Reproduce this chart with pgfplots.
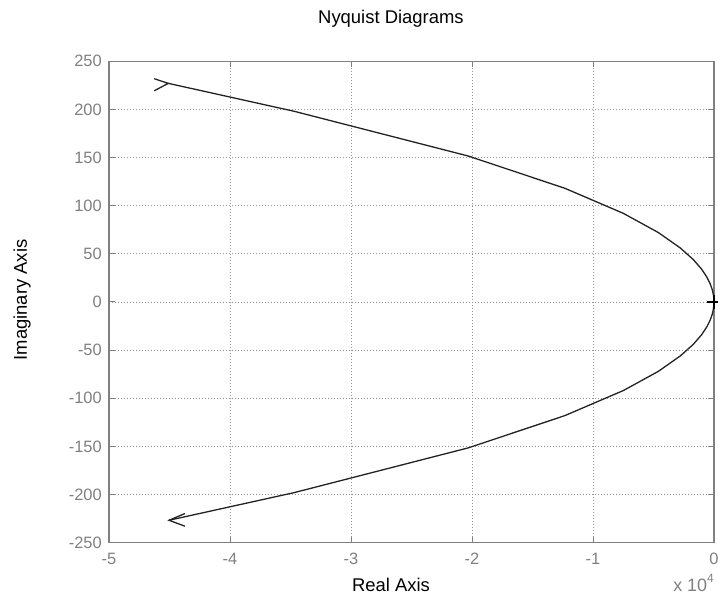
\documentclass[border=0pt]{standalone}
\usepackage{pgfplots}
\pgfplotsset{compat=1.18}
\usepackage{fontspec}
\setmainfont{Liberation Sans}
\definecolor{axgray}{RGB}{128,128,128}
\definecolor{gridgray}{RGB}{150,150,150}
\definecolor{curve}{RGB}{35,35,35}
\begin{document}
\begin{tikzpicture}
\useasboundingbox (0,0) rectangle (718bp,605bp);
\begin{axis}[
  at={(109bp,62.3bp)}, anchor=south west,
  scale only axis, width=605bp, height=481.5bp,
  xmin=-5, xmax=0, ymin=-250, ymax=250,
  xtick={-5,-4,-3,-2,-1,0},
  xticklabels={-5,-4,-3,-2,-1,0},
  ytick={-250,-200,-150,-100,-50,0,50,100,150,200,250},
  yticklabels={-250,-200,-150,-100,-50,0,50,100,150,200,250},
  tick align=inside, ticks=major,
  major tick length=6bp,
  tick style={draw=axgray, line width=1bp},
  axis line style={draw=axgray, line width=1.3bp},
  grid=major,
  major grid style={draw=gridgray, line width=0.8bp, dash pattern=on 1bp off 2bp},
  ticklabel style={font=\fontsize{16.5}{19}\selectfont, text=axgray},
  xticklabel style={yshift=-7bp},
  yticklabel style={xshift=-3.7bp},
  title={Nyquist Diagrams},
  title style={at={(axis description cs:0.466,1)}, anchor=base, yshift=32bp, font=\fontsize{18.5}{21}\selectfont},
  xlabel={Real Axis},
  xlabel style={at={(axis description cs:0.466,0)}, anchor=base, yshift=-49bp, font=\fontsize{18.5}{21}\selectfont},
  ylabel={Imaginary Axis},
  ylabel style={at={(axis description cs:-0.1438,0.504)}, anchor=center, rotate=0, font=\fontsize{18.5}{21}\selectfont},
  clip=false,
]
% upper branch
\addplot[curve, line width=1.3bp] coordinates {
  (0,0) (-0.0014,4) (-0.0057,8) (-0.015,13) (-0.032,19) (-0.060,26)
  (-0.102,34) (-0.171,44) (-0.278,56) (-0.459,72) (-0.749,92)
  (-1.232,118) (-2.03,151.5) (-3.47,198) (-4.51,227)
};
% lower branch
\addplot[curve, line width=1.3bp] coordinates {
  (0,0) (-0.0014,-4) (-0.0057,-8) (-0.015,-13) (-0.032,-19) (-0.060,-26)
  (-0.102,-34) (-0.171,-44) (-0.278,-56) (-0.459,-72) (-0.749,-92)
  (-1.232,-118) (-2.03,-151.5) (-3.47,-198) (-4.504,-226.7)
};
% arrow heads
\addplot[curve, line width=1.3bp] coordinates {(-4.626,231.8) (-4.51,227) (-4.626,219.3)};
\addplot[curve, line width=1.3bp] coordinates {(-4.372,-219.7) (-4.504,-226.7) (-4.372,-232.9)};
% critical point marker
\addplot[only marks, mark=+, mark size=7bp, mark options={draw=black, line width=1.2bp}] coordinates {(0,0)};
\node[anchor=base east, text=axgray, font=\fontsize{18}{21}\selectfont, inner sep=0pt]
  at (axis description cs:1,0) [yshift=-49bp] {x 10\raisebox{0.5em}{\fontsize{12}{12}\selectfont 4}};
\end{axis}
\end{tikzpicture}
\end{document}
